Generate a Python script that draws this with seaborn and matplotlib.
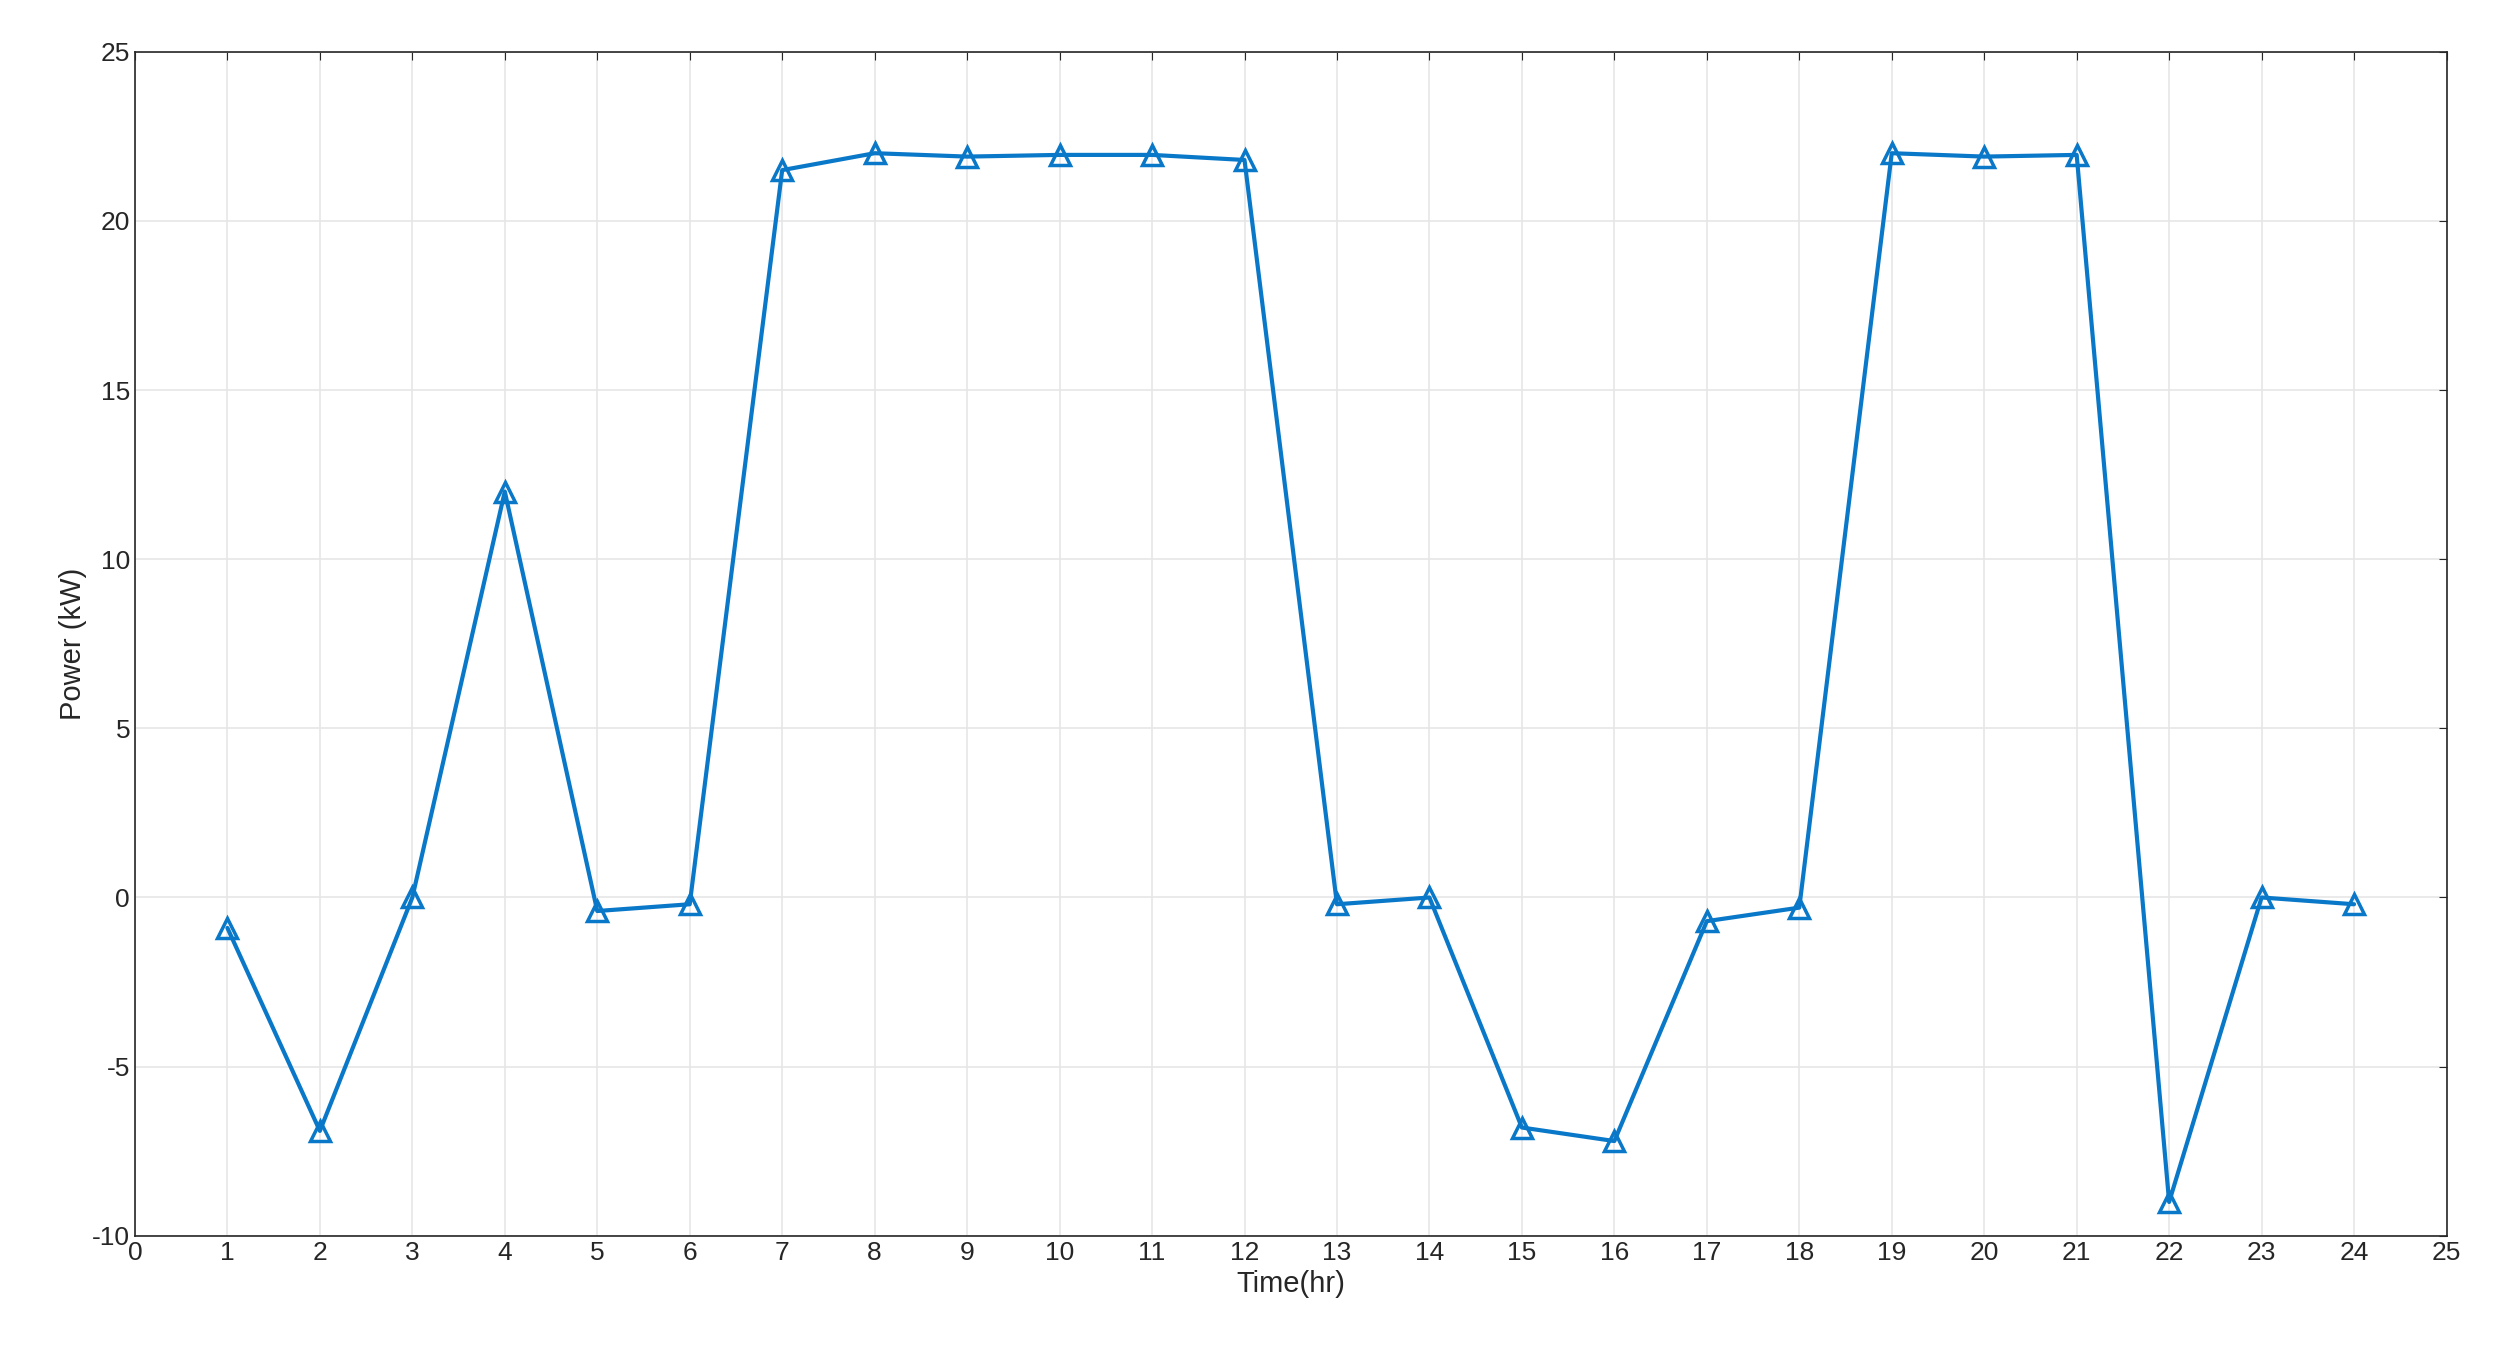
import matplotlib
matplotlib.use("Agg")
import matplotlib.pyplot as plt
import seaborn as sns
import pandas as pd

hours = list(range(1, 25))
power = [-0.9, -6.9, 0.0, 12.0, -0.4, -0.2, 21.5, 22.0, 21.9, 21.95, 21.95, 21.8,
         -0.2, 0.0, -6.8, -7.2, -0.7, -0.3, 22.0, 21.9, 21.95, -9.0, 0.0, -0.2]
xticks = list(range(0, 26))
yticks = [-10, -5, 0, 5, 10, 15, 20, 25]

sns.set_style("whitegrid")
plt.rcParams['font.family'] = ['Liberation Sans', 'DejaVu Sans']
plt.rcParams['axes.unicode_minus'] = False
df = pd.DataFrame({"Time(hr)": hours, "Power (kW)": power})

fig = plt.figure(figsize=(24.99, 13.61), dpi=100)
ax = fig.add_axes([0.054, 0.092, 0.931 - 0.006, 0.870])
sns.lineplot(data=df, x="Time(hr)", y="Power (kW)", ax=ax, color="#0a78c8",
             linewidth=3, marker="^", markersize=15, markerfacecolor="none",
             markeredgecolor="#0a78c8", markeredgewidth=2.5)
ax.set_xlim(0, 25)
ax.set_ylim(-10, 25)
ax.set_xticks(xticks)
ax.set_yticks(yticks)
ax.tick_params(labelsize=19, colors="#262626", length=6, direction="in",
               top=True, right=True)
ax.set_xlabel("Time(hr)", fontsize=21, color="#262626")
ax.set_ylabel("Power (kW)", fontsize=21, color="#262626")
ax.grid(True, color="#e6e6e6", linewidth=1.2)
for s in ax.spines.values():
    s.set_color("#262626")
    s.set_linewidth(1.2)
fig.savefig("out.png", dpi=100, facecolor="white")
